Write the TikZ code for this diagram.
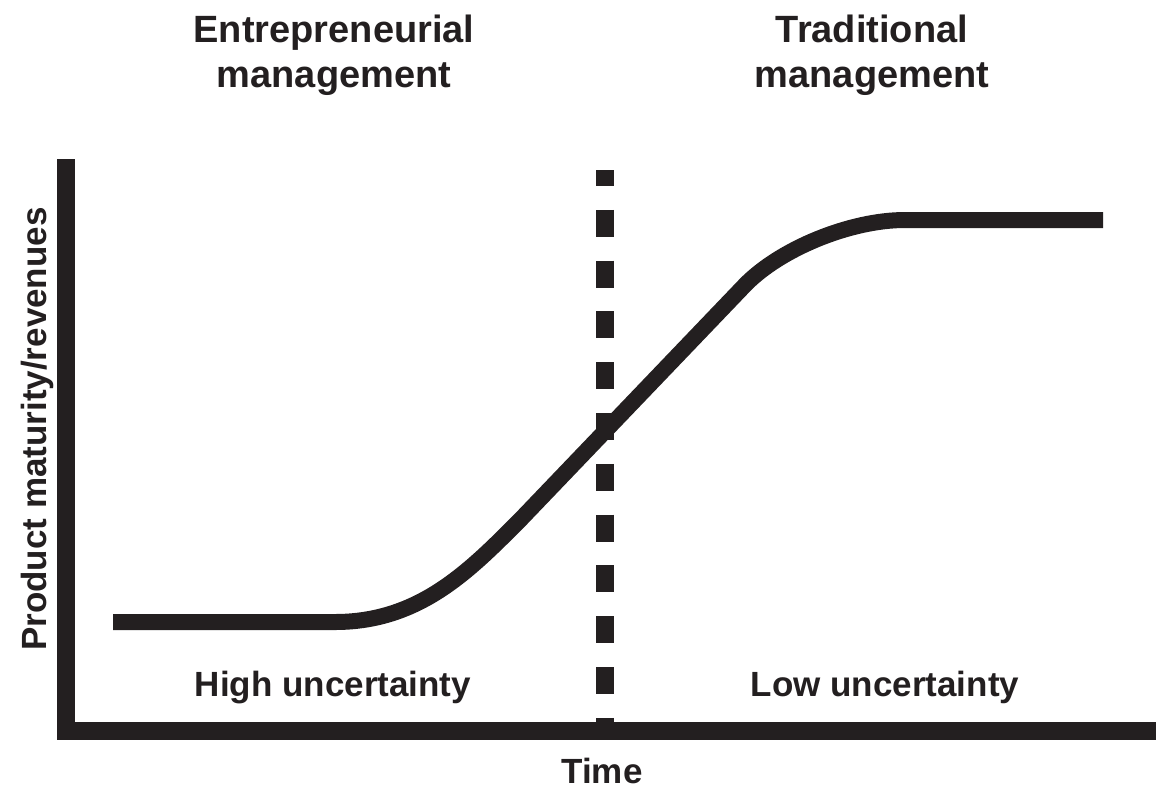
\documentclass[tikz,border=0pt]{standalone}
\usepackage{fontspec}
\setmainfont{Liberation Sans}
\definecolor{ink}{RGB}{35,31,32}
\begin{document}
\begin{tikzpicture}[x=0.75pt,y=-0.75pt,
  heading/.style={font=\bfseries\fontsize{28.5}{33.5}\selectfont, align=center, text=ink, inner sep=0pt, anchor=north},
  lbl/.style={font=\bfseries\fontsize{26.25}{30}\selectfont, text=ink, inner sep=0pt, anchor=base},
  axisline/.style={draw=ink, line width=13.5pt, line join=miter, line cap=butt},
  divider/.style={draw=ink, line width=13.5pt, line cap=butt, dash pattern=on 20.25pt off 17.85pt, dash phase=8.25pt},
  scurve/.style={draw=ink, line width=12pt, line cap=butt, line join=round}]
\useasboundingbox (0,0) rectangle (1156,790);
% headings
\node[heading] (hleft) at (334,15) {Entrepreneurial\\management};
\node[heading] (hright) at (872,15) {Traditional\\management};
% divider
\coordinate (dtop) at (605,170);
\coordinate (dbot) at (605,731);
\draw[divider] (dtop) -- (dbot);
% axes
\coordinate (ytop) at (65.5,159);
\coordinate (origin) at (65.5,731);
\coordinate (xend) at (1160,731);
\draw[axisline] (ytop) -- (origin) -- (xend);
% S-curve
\draw[scurve] (113,622) -- (335,622) .. controls (420,622) and (470,570) .. (520,520)
  -- (745,285) .. controls (780,249) and (850,220) .. (905,220) -- (1103,220);
% labels
\node[lbl] (high) at (333,696) {High uncertainty};
\node[lbl] (low) at (885,696) {Low uncertainty};
\node[lbl] (time) at (602,783) {Time};
\node[lbl, rotate=90] (ylab) at (46,429) {Product maturity/revenues};
\end{tikzpicture}
\end{document}
